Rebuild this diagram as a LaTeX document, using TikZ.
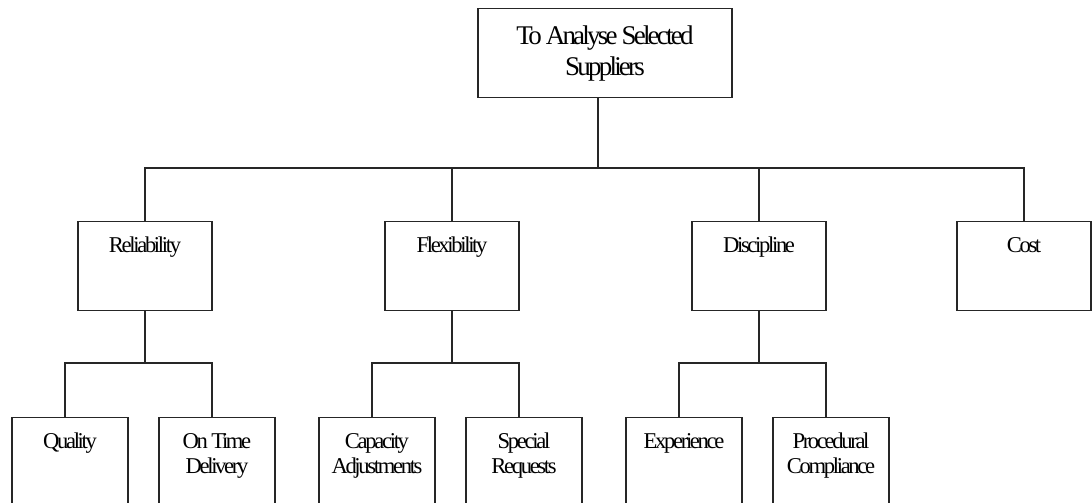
\documentclass[tikz,border=0pt]{standalone}
\usepackage{fontspec}
\setmainfont{Liberation Serif}
\newfontfamily\tightserif[LetterSpace=-10.3]{Liberation Serif}

\begin{document}
\begin{tikzpicture}[x=1pt,y=-1pt,
  line width=1.1pt,
  box/.style={draw=black!85, rectangle, anchor=north, inner sep=0pt, fill=white},
  rootbox/.style={box, minimum width=254pt, minimum height=89pt, align=center,
    font=\tightserif\fontsize{27}{31}\selectfont},
  midbox/.style={box, minimum width=134pt, minimum height=89pt},
  leafbox/.style={box, minimum width=116pt, minimum height=120pt},
  caption/.style={anchor=north, inner sep=0pt, align=center,
    font=\tightserif\fontsize{22.6}{25}\selectfont},
  wire/.style={draw=black!85, line width=1.1pt}
]
\clip (0,0) rectangle (1092,503);

% root
\node[rootbox] (root) at (605,8) {To Analyse Selected\\Suppliers};

% criteria
\node[midbox] (rel)  at (145,221) {};
\node[midbox] (flex) at (452,221) {};
\node[midbox] (disc) at (759,221) {};
\node[midbox] (cost) at (1024,221) {};
\node[caption] (relT)  at (rel.north)  {\rule{0pt}{31pt}Reliability};
\node[caption] (flexT) at (flex.north) {\rule{0pt}{31pt}Flexibility};
\node[caption] (discT) at (disc.north) {\rule{0pt}{31pt}Discipline};
\node[caption] (costT) at (cost.north) {\rule{0pt}{31pt}Cost};

% sub-criteria
\node[leafbox] (qual) at (70,417)  {};
\node[leafbox] (otd)  at (217,417) {};
\node[leafbox] (cap)  at (377,417) {};
\node[leafbox] (spec) at (524,417) {};
\node[leafbox] (exp)  at (684,417) {};
\node[leafbox] (proc) at (831,417) {};
\node[caption] (qualT) at (qual.north) {\rule{0pt}{31pt}Quality};
\node[caption] (otdT)  at (otd.north)  {\rule{0pt}{31pt}On Time\\Delivery};
\node[caption] (capT)  at (cap.north)  {\rule{0pt}{31pt}Capacity\\Adjustments};
\node[caption] (specT) at (spec.north) {\rule{0pt}{31pt}Special\\Requests};
\node[caption] (expT)  at (exp.north)  {\rule{0pt}{31pt}Experience};
\node[caption] (procT) at (proc.north) {\rule{0pt}{31pt}Procedural\\Compliance};

% bus lines
\coordinate (bus0) at (598,168);
\coordinate (busR) at (145,363);
\coordinate (busF) at (452,363);
\coordinate (busD) at (759,363);

% root to criteria
\draw[wire] ([xshift=-7pt]root.south) -- (bus0);
\draw[wire] (rel.north) -- (rel.north |- bus0) -- (cost.north |- bus0) -- (cost.north);
\draw[wire] (flex.north) -- (flex.north |- bus0);
\draw[wire] (disc.north) -- (disc.north |- bus0);

% criteria to sub-criteria
\draw[wire] (rel.south) -- (busR);
\draw[wire] ([xshift=-5pt]qual.north) -- ([xshift=-5pt]qual.north |- busR)
  -- ([xshift=-5pt]otd.north |- busR) -- ([xshift=-5pt]otd.north);
\draw[wire] (flex.south) -- (busF);
\draw[wire] ([xshift=-5pt]cap.north) -- ([xshift=-5pt]cap.north |- busF)
  -- ([xshift=-5pt]spec.north |- busF) -- ([xshift=-5pt]spec.north);
\draw[wire] (disc.south) -- (busD);
\draw[wire] ([xshift=-5pt]exp.north) -- ([xshift=-5pt]exp.north |- busD)
  -- ([xshift=-5pt]proc.north |- busD) -- ([xshift=-5pt]proc.north);
\end{tikzpicture}
\end{document}
